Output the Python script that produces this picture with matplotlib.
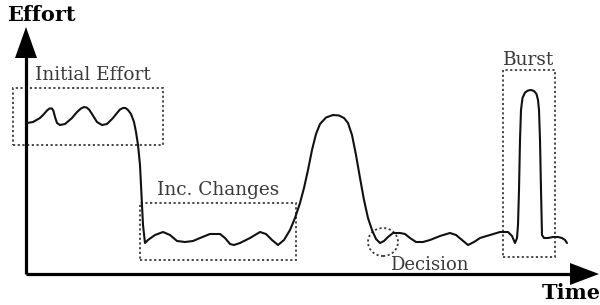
import matplotlib
matplotlib.use("Agg")
import matplotlib.pyplot as plt
from matplotlib.patches import Rectangle, Ellipse

# Effort curve (time, effort) in schematic units
time = [1, 7, 14, 18, 21, 23.5, 26, 27.5, 29, 31, 34, 39, 46, 51, 55, 58, 60.5, 63, 66, 71, 76, 81, 87,
        91, 94, 97, 99.5, 102, 105, 108, 110, 112, 114, 115, 116, 117, 119, 122, 129, 137, 144, 151,
        159, 167, 174, 184, 194, 199, 204, 208, 214, 224, 234, 240, 246, 252, 258, 264, 269, 274, 278,
        282, 286, 290, 294, 300, 307, 313, 318, 322, 326, 330, 334, 338, 342, 346, 350, 354, 358, 362,
        367, 374, 379, 384, 390, 397, 404, 414, 424, 430, 436, 442, 448, 454, 464, 474, 482, 486, 489,
        491, 492, 493, 494, 495, 496.5, 499, 502, 505, 508, 510.5, 512, 513, 514, 515, 516, 518, 522,
        527, 532, 536, 539, 541]
effort = [151, 152, 156, 160, 163.5, 165.5, 165.5, 163, 157, 151, 149, 150, 156, 162, 165.5, 167, 166.5,
          164.5, 160, 152, 149, 150, 156, 161, 164.5, 166, 166, 164, 160, 152, 142, 129, 109, 89, 69, 49,
          31, 34, 39, 42, 39, 33, 32, 33, 36, 40, 40, 36, 30, 29, 31, 36, 42, 40, 34, 29, 34, 44, 56, 71,
          86, 104, 124, 140, 150, 156.5, 159, 158.5, 156, 151, 139, 119, 96, 74, 56, 44, 35, 31, 33, 37,
          41, 41, 40, 36, 32, 32, 34, 38, 41, 39, 34, 29, 32, 36, 39, 42, 42, 38, 31, 36, 49, 84, 134,
          164, 176, 181.5, 183.5, 184, 183, 180, 174, 164, 134, 84, 39, 36, 36, 37, 37, 36, 34, 31]

# Annotation regions: (label, t0, t1, e0, e1)
box_labels = ["Initial Effort", "Inc. Changes", "Burst"]
box_t0 = [-13, 114, 477]
box_t1 = [137, 270, 529]
box_e0 = [129, 14, 17]
box_e1 = [186, 71, 204]
box_label_t = [67, 192, 503]
box_label_e = [199, 84, 214]

decision_label = "Decision"
decision_t, decision_e = 357, 32
decision_label_t, decision_label_e = 403, 9

x_label, y_label = "Time", "Effort"

fig = plt.figure(figsize=(6.0, 3.05), dpi=100)
ax = fig.add_axes([0, 0, 1, 1])
ax.set_xlim(-26, 574)
ax.set_ylim(-31, 274)
ax.axis("off")

serif = ["DejaVu Serif"]
gray = "#3a3a3a"

# axes with arrows
ax.plot([0, 0], [0, 220], color="black", lw=2.3, solid_capstyle="butt")
ax.plot([0, 548], [0, 0], color="black", lw=2.3, solid_capstyle="butt")
ax.fill([-11, 11, 0], [216, 216, 247], color="black", lw=0)
ax.fill([544, 544, 573], [-11, 11, 0], color="black", lw=0)

ax.plot(time, effort, color="#111111", lw=1.5, solid_joinstyle="round", solid_capstyle="round")

for lab, t0, t1, e0, e1, lt, le in zip(box_labels, box_t0, box_t1, box_e0, box_e1,
                                       box_label_t, box_label_e):
    ax.add_patch(Rectangle((t0, e0), t1 - t0, e1 - e0, fill=False, ls=(0, (1.2, 1.4)),
                           lw=1.3, edgecolor=gray))
    ax.text(lt, le, lab, ha="center", va="center", fontsize=13.3, color=gray, family=serif)

ax.add_patch(Ellipse((decision_t, decision_e), 30, 28, fill=False, ls=(0, (1.2, 1.4)),
                     lw=1.3, edgecolor=gray))
ax.text(decision_label_t, decision_label_e, decision_label, ha="center", va="center",
        fontsize=13, color=gray, family=serif)

ax.text(15.5, 259, y_label, ha="center", va="center", fontsize=15, fontweight="bold",
        color="black", family=serif)
ax.text(545, -19, x_label, ha="center", va="center", fontsize=15, fontweight="bold",
        color="black", family=serif)

fig.savefig("out.png", dpi=100)
